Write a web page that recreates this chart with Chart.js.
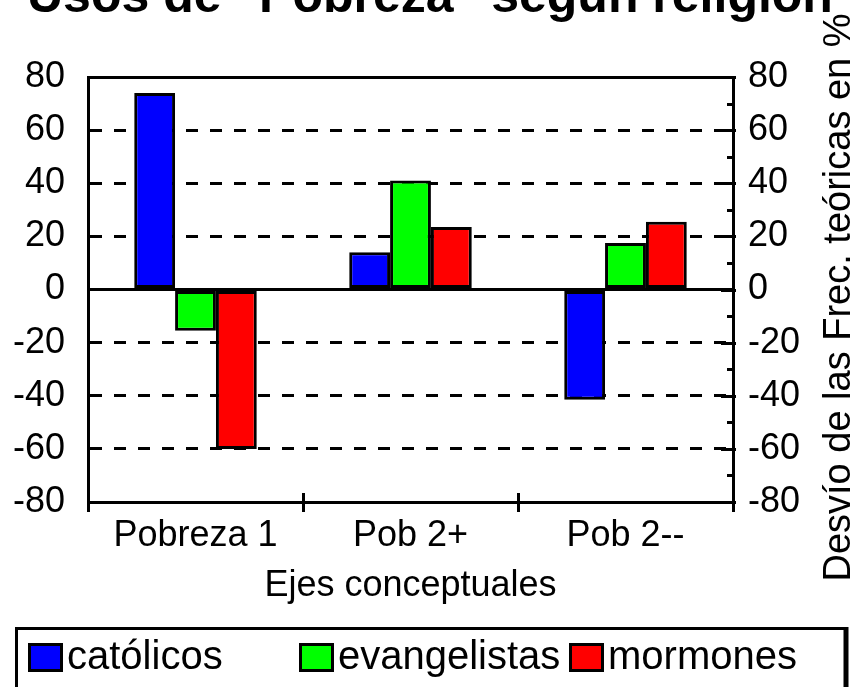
<!DOCTYPE html>
<html>
<head>
<meta charset="utf-8">
<script src="https://cdn.jsdelivr.net/npm/chart.js@4.4.0/dist/chart.umd.min.js"></script>
<style>
  html, body { margin: 0; padding: 0; background: #fff; }
  #grafico { display: block; }
</style>
</head>
<body>
<canvas id="grafico" width="853" height="687"></canvas>
<script>
// datos
var categorias = ['Pobreza 1', 'Pob 2+', 'Pob 2--'];
var catolicos = [74, 14, -41.5];
var evangelistas = [-15.5, 41, 17.5];
var mormones = [-60, 23.5, 25.5];
var ticksY = [-80, -60, -40, -20, 0, 20, 40, 60, 80];
var ticksMenores = [-70, -50, -30, -10, 10, 30, 50, 70];

var fuente = '"Liberation Sans", Arial, sans-serif';
Chart.defaults.font.family = fuente;
Chart.defaults.color = '#000';

function ponerTicks(s) {
  s.ticks = ticksY.map(function(v) { return { value: v }; });
}

// titulo, eje derecho, marcas y leyenda a mano
var extras = {
  id: 'extras',
  afterDraw: function(chart) {
    var ctx = chart.ctx;
    var area = chart.chartArea;
    var x = chart.scales.x;
    var y2 = chart.scales.y2;
    ctx.save();
    ctx.strokeStyle = '#000';
    ctx.fillStyle = '#000';
    ctx.lineWidth = 3;

    // marcas del eje derecho
    ticksY.forEach(function(v) {
      var py = Math.round(y2.getPixelForValue(v)) + 0.5;
      ctx.beginPath(); ctx.moveTo(area.right - 12, py); ctx.lineTo(area.right + 3, py); ctx.stroke();
    });
    ticksMenores.forEach(function(v) {
      var py = Math.round(y2.getPixelForValue(v)) + 0.5;
      ctx.beginPath(); ctx.moveTo(area.right - 6, py); ctx.lineTo(area.right, py); ctx.stroke();
    });

    // marcas interiores del eje x
    for (var i = 1; i < categorias.length; i++) {
      var px = Math.round((x.getPixelForValue(i - 1) + x.getPixelForValue(i)) / 2) + 0.5;
      ctx.beginPath(); ctx.moveTo(px, area.bottom); ctx.lineTo(px, area.bottom - 9); ctx.stroke();
    }

    // titulo (cortado arriba)
    ctx.font = 'bold 50px ' + fuente;
    ctx.textAlign = 'left';
    ctx.textBaseline = 'alphabetic';
    ctx.fillText('Usos de "Pobreza" según religión', 27, 12);

    // titulo del eje derecho
    ctx.save();
    ctx.translate(850, (area.top + area.bottom) / 2 + 8);
    ctx.rotate(-Math.PI / 2);
    ctx.font = '38px ' + fuente;
    ctx.textAlign = 'center';
    ctx.fillText('Desvío de las Frec. teóricas en %', 0, 0);
    ctx.restore();

    // leyenda
    ctx.lineWidth = 3;
    ctx.beginPath();
    ctx.moveTo(16.5, 700); ctx.lineTo(16.5, 628.5); ctx.lineTo(845, 628.5);
    ctx.stroke();
    ctx.lineWidth = 5;
    ctx.beginPath(); ctx.moveTo(846, 627); ctx.lineTo(846, 700); ctx.stroke();

    var posX = [28, 299, 569];
    ctx.font = '40px ' + fuente;
    ctx.textBaseline = 'middle';
    ctx.textAlign = 'left';
    ctx.lineWidth = 3;
    chart.data.datasets.forEach(function(ds, k) {
      ctx.fillStyle = ds.backgroundColor;
      ctx.fillRect(posX[k], 643, 35, 29);
      ctx.strokeRect(posX[k] + 1.5, 644.5, 32, 26);
      ctx.fillStyle = '#000';
      ctx.fillText(ds.label, posX[k] + 39, 658);
    });
    ctx.restore();
  }
};

function guiones(c) {
  if (c.tick && c.tick.value % 80 !== 0) return [12, 12];
  return [];
}

new Chart(document.getElementById('grafico'), {
  type: 'bar',
  data: {
    labels: categorias,
    datasets: [
      { label: 'católicos', data: catolicos, backgroundColor: '#0000ff' },
      { label: 'evangelistas', data: evangelistas, backgroundColor: '#00ff00' },
      { label: 'mormones', data: mormones, backgroundColor: '#ff0000' }
    ]
  },
  options: {
    responsive: false,
    animation: false,
    layout: { padding: { top: 77, left: 0, right: 0, bottom: 0 } },
    datasets: {
      bar: {
        borderColor: '#000',
        borderWidth: 3,
        borderSkipped: false,
        categoryPercentage: 0.57,
        barPercentage: 1.0
      }
    },
    plugins: {
      legend: { display: false },
      title: { display: false },
      tooltip: { enabled: false }
    },
    scales: {
      x: {
        grid: { display: true, drawOnChartArea: false, offset: true, tickLength: 10, tickWidth: 3, tickColor: '#000', lineWidth: 3, color: '#000' },
        border: { display: true, width: 3, color: '#000' },
        ticks: { font: { size: 36 }, color: '#000', padding: 2, maxRotation: 0, autoSkip: false },
        title: { display: true, text: 'Ejes conceptuales', font: { size: 36 }, color: '#000', padding: { top: 0, bottom: 79 } },
        afterFit: function(s) { s.height = 185; }
      },
      y: {
        position: 'left',
        min: -80, max: 80,
        afterBuildTicks: ponerTicks,
        grid: { color: '#000', lineWidth: 3, drawTicks: false },
        border: { display: true, width: 3, color: '#000', dash: guiones },
        ticks: { font: { size: 36 }, color: '#000', padding: 23 },
        afterFit: function(s) { s.width = 88; }
      },
      y2: {
        position: 'right',
        min: -80, max: 80,
        afterBuildTicks: ponerTicks,
        grid: { display: false, drawTicks: false },
        border: { display: true, width: 3, color: '#000' },
        ticks: { font: { size: 36 }, color: '#000', padding: 15 },
        afterFit: function(s) { s.width = 120; }
      }
    }
  },
  plugins: [extras]
});
</script>
</body>
</html>
